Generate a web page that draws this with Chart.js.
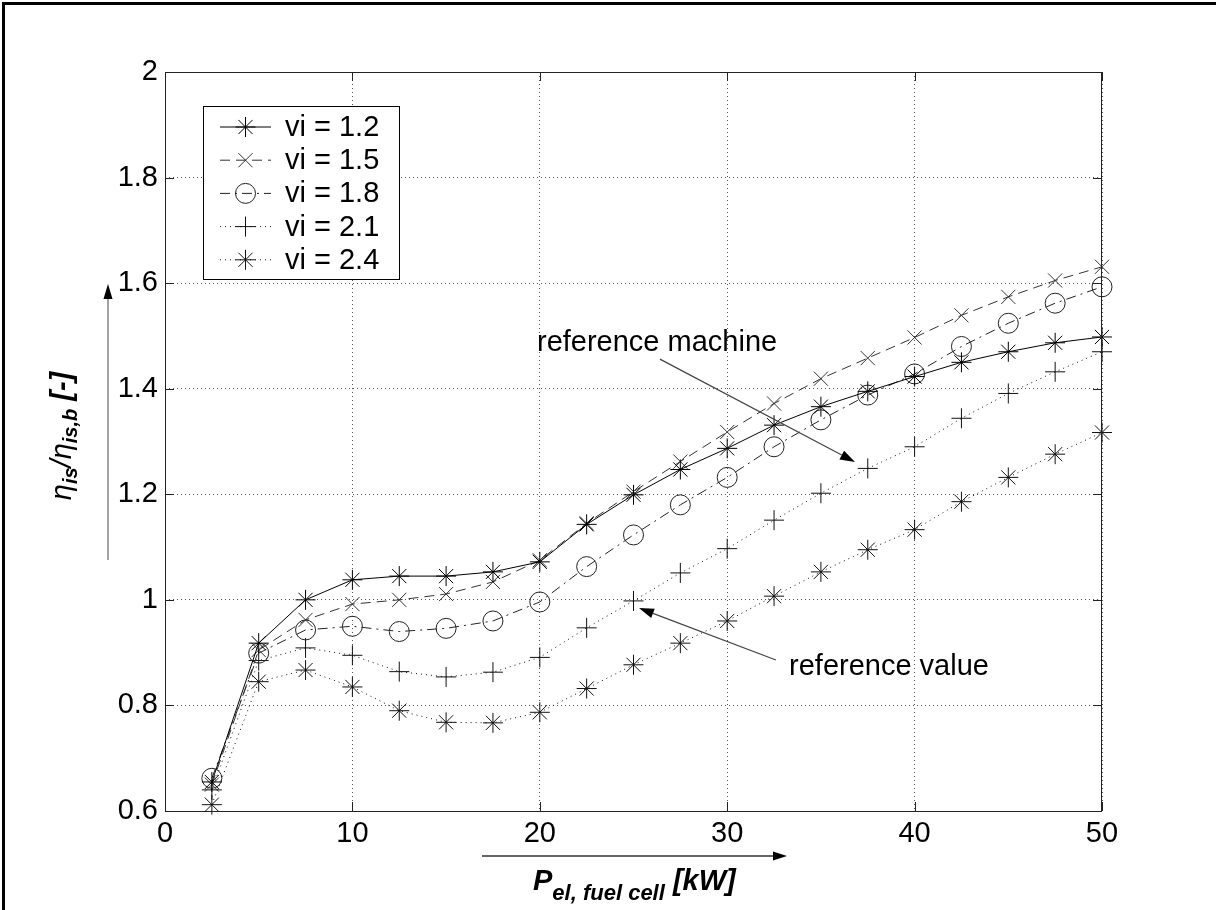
<!DOCTYPE html>
<html>
<head>
<meta charset="utf-8">
<title>Efficiency ratio vs fuel cell power</title>
<script src="https://cdn.jsdelivr.net/npm/chart.js@4.4.1/dist/chart.umd.min.js"></script>
<style>
  html, body { margin:0; padding:0; background:#fff; }
  #wrap { position:relative; width:1216px; height:910px; overflow:hidden; }
  #chart { display:block; }
  #frame { position:absolute; left:2px; top:2px; width:1214px; height:908px;
           border-top:3px solid #000; border-left:3px solid #000; box-sizing:border-box; pointer-events:none; }
</style>
</head>
<body>
<div id="wrap">
  <canvas id="chart" width="1216" height="910"></canvas>
  <div id="frame"></div>
</div>
<script>
// data
const xValues = [2.5, 5, 7.5, 10, 12.5, 15, 17.5, 20, 22.5, 25, 27.5, 30, 32.5, 35, 37.5, 40, 42.5, 45, 47.5, 50];
const vi12 = [0.655, 0.918, 1.000, 1.038, 1.045, 1.045, 1.053, 1.072, 1.143, 1.199, 1.247, 1.287, 1.331, 1.366, 1.395, 1.423, 1.450, 1.470, 1.487, 1.498];
const vi15 = [0.650, 0.905, 0.962, 0.992, 1.000, 1.011, 1.034, 1.075, 1.145, 1.205, 1.262, 1.318, 1.372, 1.419, 1.458, 1.497, 1.539, 1.574, 1.605, 1.631];
const vi18 = [0.662, 0.899, 0.943, 0.950, 0.940, 0.946, 0.960, 0.996, 1.063, 1.123, 1.180, 1.232, 1.290, 1.341, 1.388, 1.428, 1.480, 1.524, 1.562, 1.593];
const vi21 = [0.640, 0.885, 0.909, 0.895, 0.864, 0.854, 0.863, 0.891, 0.947, 0.998, 1.051, 1.097, 1.151, 1.202, 1.249, 1.290, 1.344, 1.391, 1.432, 1.470];
const vi24 = [0.612, 0.845, 0.867, 0.835, 0.790, 0.768, 0.767, 0.787, 0.832, 0.877, 0.918, 0.960, 1.007, 1.053, 1.095, 1.133, 1.186, 1.232, 1.276, 1.317];
const seriesLabels = ['vi = 1.2', 'vi = 1.5', 'vi = 1.8', 'vi = 2.1', 'vi = 2.4'];

const xTicks = [0, 10, 20, 30, 40, 50];
const xTickLabels = ['0', '10', '20', '30', '40', '50'];
const yTicks = [0.6, 0.8, 1.0, 1.2, 1.4, 1.6, 1.8, 2.0];
const yTickLabels = ['0.6', '0.8', '1', '1.2', '1.4', '1.6', '1.8', '2'];

// annotations, in data units
const noteMachine = { text: 'reference machine', x: 19.85, y: 1.471, from: [26.41, 1.456], to: [36.82, 1.261] };
const noteValue = { text: 'reference value', x: 33.3, y: 0.8576, from: [32.6, 0.886], to: [25.29, 0.9845] };

const FONT = "'Liberation Sans', Arial, sans-serif";
Chart.defaults.font.family = FONT;
Chart.defaults.font.size = 29;
Chart.defaults.color = '#000';

function pts(ys) { return xValues.map((x, i) => ({ x: x, y: ys[i] })); }

const styles = [
  { data: vi12, color: '#000', dash: [], point: 'star' },
  { data: vi15, color: '#333', dash: [10, 6], point: 'crossRot' },
  { data: vi18, color: '#222', dash: [10, 5, 2, 5], point: 'circle' },
  { data: vi21, color: '#111', dash: [1, 4], point: 'cross' },
  { data: vi24, color: '#111', dash: [1, 4], point: 'star' }
];

const datasets = styles.map((s, i) => ({
  label: seriesLabels[i],
  data: pts(s.data),
  borderColor: s.color,
  borderWidth: 1,
  borderDash: s.dash,
  pointStyle: s.point,
  pointRadius: 10,
  pointBorderWidth: 1,
  pointBorderColor: s.color,
  pointBackgroundColor: 'rgba(0,0,0,0)',
  tension: 0,
  fill: false,
  clip: false
}));

function arrow(ctx, x1, y1, x2, y2, color, lw, headLen, headW) {
  const a = Math.atan2(y2 - y1, x2 - x1);
  const bx = x2 - headLen * Math.cos(a), by = y2 - headLen * Math.sin(a);
  ctx.strokeStyle = color; ctx.lineWidth = lw; ctx.setLineDash([]);
  ctx.beginPath(); ctx.moveTo(x1, y1); ctx.lineTo(bx, by); ctx.stroke();
  ctx.fillStyle = '#000';
  ctx.beginPath();
  ctx.moveTo(x2, y2);
  ctx.lineTo(bx + headW / 2 * Math.sin(a), by - headW / 2 * Math.cos(a));
  ctx.lineTo(bx - headW / 2 * Math.sin(a), by + headW / 2 * Math.cos(a));
  ctx.closePath(); ctx.fill();
}

function runsWidth(ctx, runs) {
  let w = 0;
  runs.forEach(r => { ctx.font = r.font; w += ctx.measureText(r.t).width; });
  return w;
}
function drawRuns(ctx, runs, x, y) {
  let cx = x;
  runs.forEach(r => {
    ctx.font = r.font;
    ctx.fillText(r.t, cx, y + (r.dy || 0));
    cx += ctx.measureText(r.t).width;
  });
}

const boxPlugin = {
  id: 'box',
  afterDatasetsDraw(chart) {
    const { ctx, chartArea: a, scales } = chart;
    ctx.save();
    ctx.strokeStyle = '#222'; ctx.lineWidth = 1; ctx.setLineDash([]);
    ctx.strokeRect(a.left + 0.5, a.top + 0.5, a.right - a.left - 1, a.bottom - a.top);
    // inside tick marks
    ctx.beginPath();
    xTicks.forEach(v => {
      const x = Math.round(scales.x.getPixelForValue(v)) + 0.5;
      ctx.moveTo(x, a.bottom); ctx.lineTo(x, a.bottom - 9);
      ctx.moveTo(x, a.top); ctx.lineTo(x, a.top + 9);
    });
    yTicks.forEach(v => {
      const y = Math.round(scales.y.getPixelForValue(v)) + 0.5;
      ctx.moveTo(a.left, y); ctx.lineTo(a.left + 9, y);
      ctx.moveTo(a.right, y); ctx.lineTo(a.right - 9, y);
    });
    ctx.stroke();
    ctx.restore();
  },
  afterDraw(chart) {
    const { ctx, chartArea: a, scales } = chart;
    const px = v => scales.x.getPixelForValue(v);
    const py = v => scales.y.getPixelForValue(v);
    ctx.save();

    // legend
    const lx = a.left + 38, ly = a.top + 34;
    ctx.fillStyle = '#fff';
    ctx.fillRect(lx, ly, 196, 173);
    ctx.strokeStyle = '#000'; ctx.lineWidth = 1; ctx.setLineDash([]);
    ctx.strokeRect(lx + 0.5, ly + 0.5, 196, 173);
    chart.data.datasets.forEach((ds, i) => {
      const y = ly + 21 + i * 33.2;
      ctx.strokeStyle = ds.borderColor; ctx.lineWidth = 1;
      ctx.setLineDash(ds.borderDash);
      ctx.beginPath(); ctx.moveTo(lx + 17, y); ctx.lineTo(lx + 68, y); ctx.stroke();
      ctx.setLineDash([]);
      ctx.fillStyle = 'rgba(0,0,0,0)';
      Chart.helpers.drawPoint(ctx, { pointStyle: ds.pointStyle, radius: 10, borderWidth: 1, rotation: 0 }, lx + 42.5, y);
      ctx.fillStyle = '#000';
      ctx.font = '29px ' + FONT;
      ctx.textBaseline = 'middle';
      ctx.fillText(ds.label, lx + 82, y + 1);
    });

    // annotations
    ctx.textBaseline = 'alphabetic';
    ctx.fillStyle = '#000';
    ctx.font = '29px ' + FONT;
    [noteMachine, noteValue].forEach(n => {
      ctx.fillText(n.text, px(n.x), py(n.y));
      arrow(ctx, px(n.from[0]), py(n.from[1]), px(n.to[0]), py(n.to[1]), '#444', 1.2, 15, 10);
    });

    // axis arrows
    arrow(ctx, a.left + 317, a.bottom + 45, a.left + 622, a.bottom + 45, '#666', 2, 14, 9);
    arrow(ctx, a.left - 57, a.top + 488, a.left - 57, a.top + 212, '#444', 1, 15, 9);

    // x title
    const xr = [
      { t: 'P', font: 'italic bold 29px ' + FONT },
      { t: 'el, fuel cell', font: 'italic bold 22px ' + FONT, dy: 10 },
      { t: ' [kW]', font: 'italic bold 29px ' + FONT }
    ];
    ctx.fillStyle = '#000';
    drawRuns(ctx, xr, a.left + 368, a.bottom + 79);

    // y title
    const yr = [
      { t: 'η', font: 'italic 29px ' + FONT },
      { t: 'is', font: 'italic bold 20px ' + FONT, dy: 6 },
      { t: '/', font: 'italic 29px ' + FONT },
      { t: 'η', font: 'italic 29px ' + FONT },
      { t: 'is,b', font: 'italic bold 20px ' + FONT, dy: 6 },
      { t: ' [-]', font: 'italic bold 29px ' + FONT }
    ];
    ctx.translate(71, 436);
    ctx.rotate(-Math.PI / 2);
    drawRuns(ctx, yr, -runsWidth(ctx, yr) / 2, 0);
    ctx.restore();
  }
};

new Chart(document.getElementById('chart'), {
  type: 'line',
  data: { datasets: datasets },
  options: {
    responsive: false,
    animation: false,
    layout: { padding: { left: 0, top: 72, right: 114, bottom: 59 } },
    plugins: { legend: { display: false }, tooltip: { enabled: false } },
    scales: {
      x: {
        type: 'linear', min: 0, max: 50,
        afterBuildTicks: s => { s.ticks = xTicks.map(v => ({ value: v })); },
        afterFit: s => { s.height = 40; },
        ticks: { padding: 6, autoSkip: false, maxRotation: 0, callback: (v, i) => xTickLabels[i] },
        grid: { color: '#555', lineWidth: 1, drawTicks: false },
        border: { display: false, dash: [1, 3] }
      },
      y: {
        type: 'linear', min: 0.6, max: 2,
        afterBuildTicks: s => { s.ticks = yTicks.map(v => ({ value: v })); },
        afterFit: s => { s.width = 165; },
        ticks: { padding: 7, callback: (v, i) => yTickLabels[i] },
        grid: { color: '#555', lineWidth: 1, drawTicks: false },
        border: { display: false, dash: [1, 3] }
      }
    }
  },
  plugins: [boxPlugin]
});
</script>
</body>
</html>
